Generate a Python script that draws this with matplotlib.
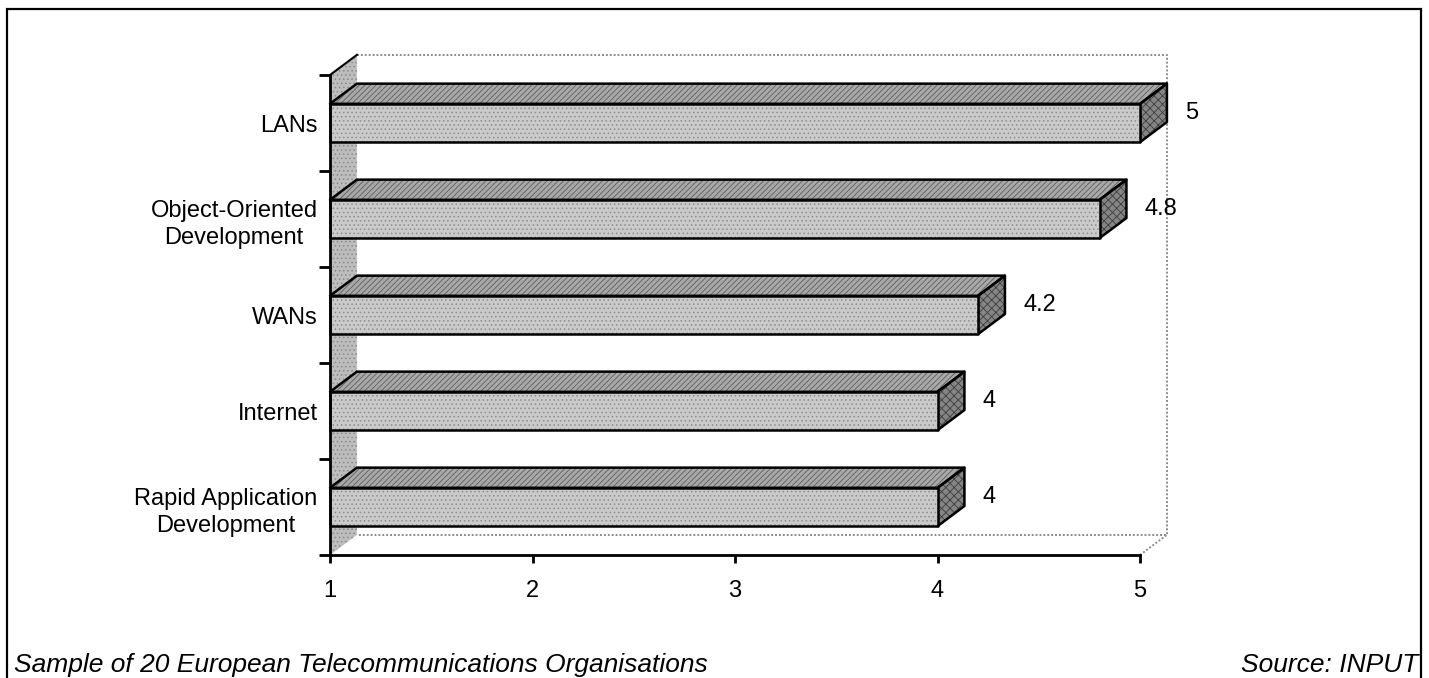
import matplotlib
matplotlib.use("Agg")
import matplotlib.pyplot as plt
from matplotlib.patches import Polygon, Rectangle
from matplotlib.lines import Line2D

plt.rcParams['font.family'] = ['Liberation Sans', 'DejaVu Sans']
plt.rcParams['hatch.linewidth'] = 0.6

# data (bottom to top)
categories = ["Rapid Application\nDevelopment", "Internet", "WANs",
              "Object-Oriented\nDevelopment", "LANs"]
values = [4, 4, 4.2, 4.8, 5]
value_labels = ["4", "4", "4.2", "4.8", "5"]
x_ticks = [1, 2, 3, 4, 5]

W, H = 1429, 678
fig = plt.figure(figsize=(W / 100, H / 100), dpi=100)
ax = fig.add_axes([330 / W, (H - 555) / H, 810 / W, 480 / H])
ax.set_xlim(1, 5)
ax.set_ylim(0, 5)

# depth of the pseudo-3d effect, in data units
dx, dy = 0.133, 0.21
half = 0.2


def face(pts, fc, hatch, hc, z):
    # hatched fill first, then a black outline on top
    ax.add_patch(Polygon(pts, closed=True, facecolor=fc, edgecolor=hc,
                         hatch=hatch, lw=0, clip_on=False, zorder=z))
    ax.add_patch(Polygon(pts, closed=True, fill=False, edgecolor='black',
                         lw=1.8, clip_on=False, zorder=z + 0.1,
                         joinstyle='round'))


# side wall and back wall outline
wall = [(1, 0), (1, 5), (1 + dx, 5 + dy), (1 + dx, dy)]
ax.add_patch(Polygon(wall, closed=True, facecolor='#bdbdbd', edgecolor='#8a8a8a',
                     hatch='....', lw=0, clip_on=False, zorder=1))
ax.add_line(Line2D([1, 1 + dx], [5, 5 + dy], color='black', lw=1.5, zorder=1.2,
                   clip_on=False))
back_x = [1 + dx, 5 + dx, 5 + dx, 1 + dx]
back_y = [5 + dy, 5 + dy, dy, dy]
ax.plot(back_x, back_y, color='#8c8c8c', lw=1.4, ls=(0, (1, 1)),
        clip_on=False, zorder=1)
ax.plot([5, 5 + dx], [0, dy], color='#8c8c8c', lw=1.4, ls=(0, (1, 1)),
        clip_on=False, zorder=1)

# bars
for i, (v, lab) in enumerate(zip(values, value_labels)):
    c = i + 0.5
    lo, hi = c - half, c + half
    z = 3 + (len(values) - i) * 0.5
    top = [(1, hi), (v, hi), (v + dx, hi + dy), (1 + dx, hi + dy)]
    side = [(v, lo), (v + dx, lo + dy), (v + dx, hi + dy), (v, hi)]
    front = [(1, lo), (v, lo), (v, hi), (1, hi)]
    face(top, '#a8a8a8', '//////', '#5e5e5e', z)
    face(side, '#858585', 'xxxx', '#3e3e3e', z)
    face(front, '#cacaca', '....', '#8e8e8e', z + 0.2)
    ax.text(v + dx + 0.09, c + dy / 2, lab, ha='left', va='center',
            fontsize=17, clip_on=False)

# axes
for s in ['top', 'right']:
    ax.spines[s].set_visible(False)
for s in ['left', 'bottom']:
    ax.spines[s].set_linewidth(2)
    ax.spines[s].set_zorder(10)
ax.set_xticks(x_ticks)
ax.set_xticklabels([str(t) for t in x_ticks], fontsize=17)
ax.tick_params(axis='x', direction='out', length=6, width=2, pad=12)
ax.set_yticks(range(6))
ax.set_yticklabels([])
ax.set_yticks([i + 0.5 for i in range(5)], minor=True)
ax.set_yticklabels(categories, minor=True, fontsize=17, ha='right',
                   multialignment='center', linespacing=1.35)
ax.tick_params(axis='y', which='major', direction='out', length=8, width=2)
ax.tick_params(axis='y', which='minor', length=0, pad=9)
ax.patch.set_visible(False)

# outer frame
fig.add_artist(Rectangle((7 / W, -0.1), 1414 / W, 1 - 9 / H + 0.1,
                         transform=fig.transFigure, fill=False,
                         edgecolor='black', lw=1.6))

fig.text(14 / W, 1 - 672 / H, "Sample of 20 European Telecommunications Organisations",
         fontsize=19, fontstyle='italic', va='baseline', ha='left')
fig.text(1418 / W, 1 - 672 / H, "Source: INPUT", fontsize=19,
         fontstyle='italic', va='baseline', ha='right')

fig.savefig("out.png", dpi=100)
